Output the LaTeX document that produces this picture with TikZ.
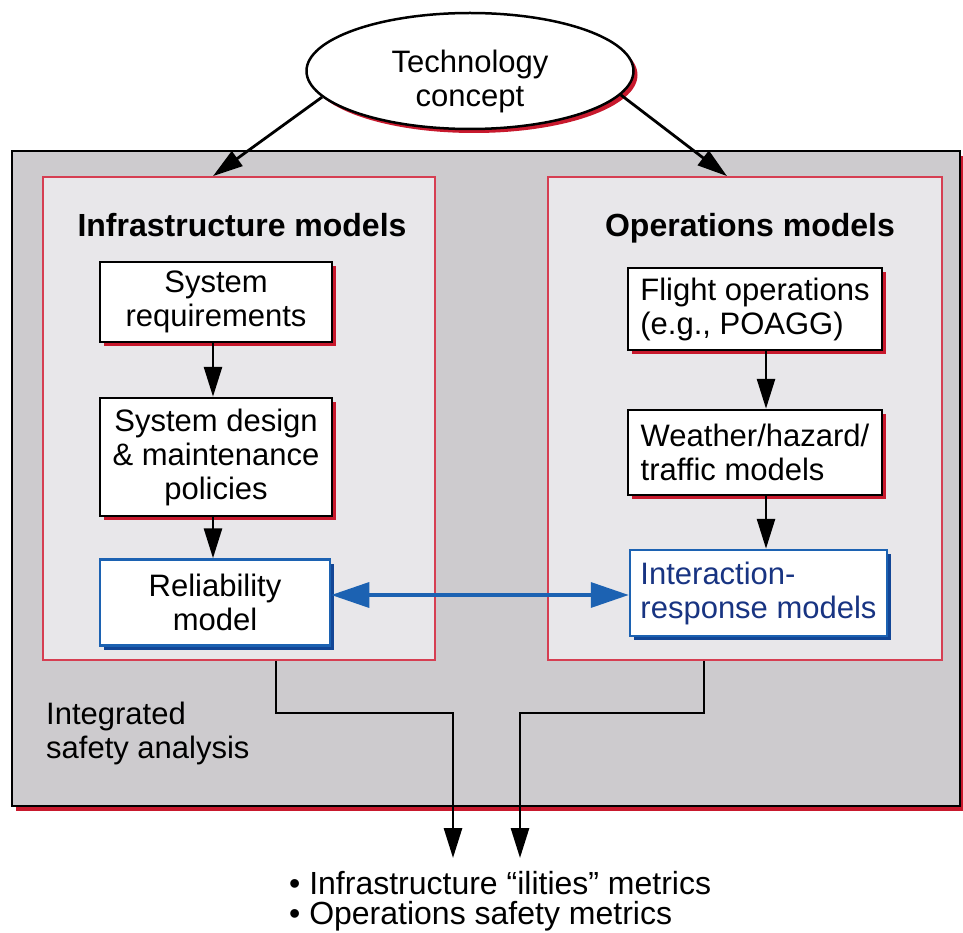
\documentclass[tikz,border=0pt]{standalone}
\usepackage{fontspec}
\setmainfont{Liberation Sans}
\usetikzlibrary{arrows.meta,shapes.geometric,shadows}

\definecolor{panelgray}{RGB}{205,203,206}
\definecolor{innergray}{RGB}{232,231,234}
\definecolor{shadowred}{RGB}{200,25,45}
\definecolor{framered}{RGB}{214,62,82}
\definecolor{linkblue}{RGB}{28,98,178}
\definecolor{deepblue}{RGB}{18,70,150}
\definecolor{textblue}{RGB}{24,52,130}

\begin{document}
\begin{tikzpicture}[x=1pt,y=-1pt,
  font=\fontsize{31}{34}\selectfont,
  redshadow/.style={drop shadow={shadow xshift=4pt,shadow yshift=-4pt,fill=shadowred,opacity=1}},
  blueshadow/.style={drop shadow={shadow xshift=4pt,shadow yshift=-4pt,fill=deepblue,opacity=1}},
  stepbox/.style={draw=black,line width=2.5pt,fill=white,redshadow,inner sep=0pt,align=center},
  keybox/.style={draw=linkblue,line width=2.5pt,fill=white,blueshadow,inner sep=0pt,align=center},
  groupbox/.style={draw=framered,line width=1.8pt,fill=innergray,inner sep=0pt},
  arr/.style={line width=2.8pt,-{Triangle[length=30pt,width=18pt]}},
  bluearr/.style={draw=linkblue,line width=3.5pt,{Triangle[length=38pt,width=25pt]}-{Triangle[length=38pt,width=25pt]}},
  plain/.style={inner sep=0pt},
  heading/.style={inner sep=0pt,font=\fontsize{32}{34}\selectfont\bfseries}
]
\useasboundingbox (0,0) rectangle (963,933);

% integrated safety analysis panel
\node[draw=black,line width=2.2pt,fill=panelgray,inner sep=0pt,
      drop shadow={shadow xshift=4pt,shadow yshift=-5pt,fill=shadowred,opacity=1},
      minimum width=948pt,minimum height=655pt] (panel) at (486,478.5) {};

% model groups
\node[groupbox,minimum width=392pt,minimum height=483pt] (infra) at (239,418.5) {};
\node[groupbox,minimum width=394pt,minimum height=483pt] (ops) at (745,418.5) {};

\node[heading] (infraT) at (242,225) {Infrastructure models};
\node[heading] (opsT) at (750,228) {Operations models};

% technology concept (text set a little below the ellipse centre)
\node[ellipse,draw=black,line width=2.5pt,fill=white,redshadow,inner sep=0pt,
      minimum width=327pt,minimum height=116pt] (tech) at (470,71)
      {\raisebox{-18pt}[0pt][0pt]{\begin{tabular}{@{}c@{}}Technology\\concept\end{tabular}}};

% infrastructure chain
\node[stepbox,minimum width=232pt,minimum height=80pt] (sysreq) at (216,302) {System\\requirements};
\node[stepbox,minimum width=232pt,minimum height=118pt] (sysdes) at (216,457) {System design\\\& maintenance\\policies};
\node[keybox,minimum width=230pt,minimum height=86pt] (relia) at (215,602.5) {Reliability\\model};

% operations chain
\node[stepbox,minimum width=254pt,minimum height=82pt,align=left] (flight) at (755,309) {Flight operations\\(e.g., POAGG)};
\node[stepbox,minimum width=254pt,minimum height=85pt,align=left] (weather) at (755,452.5) {Weather/hazard/\\traffic models};
\node[keybox,minimum width=257pt,minimum height=86pt,align=left,text=textblue] (interact) at (758.5,593) {Interaction-\\response models};

% panel label and outputs
\node[plain,anchor=west,align=left] (isa) at (46,733) {Integrated\\safety analysis};
\node[plain,anchor=north west,align=left,font=\fontsize{32}{30}\selectfont] (metrics) at (289,871)
  {• Infrastructure “ilities” metrics\\• Operations safety metrics};

\coordinate (link) at (480,595);
\coordinate (jL) at (453,713);
\coordinate (jR) at (520,713);
\coordinate (tipL) at (453,858);
\coordinate (tipR) at (520,858);

% connectors
\draw[arr] (tech.190) -- ([xshift=-26pt]infra.north);
\draw[arr] (tech.-9) -- ([xshift=-18pt]ops.north);
\draw[arr] ([xshift=-3pt]sysreq.south) -- ([xshift=-3pt]sysdes.north);
\draw[arr] ([xshift=-3pt]sysdes.south) -- ([xshift=-3pt]relia.north -| sysdes.south);
\draw[arr] ([xshift=11pt]flight.south) -- ([xshift=11pt]weather.north);
\draw[arr] ([xshift=11pt]weather.south) -- ([xshift=11pt]weather.south |- interact.north);
\draw[bluearr] (relia.east |- link) -- (interact.west |- link);
\draw[arr] ([xshift=37pt]infra.south) |- (jL) -- (tipL);
\draw[arr] ([xshift=-41pt]ops.south) |- (jR) -- (tipR);
\end{tikzpicture}
\end{document}
